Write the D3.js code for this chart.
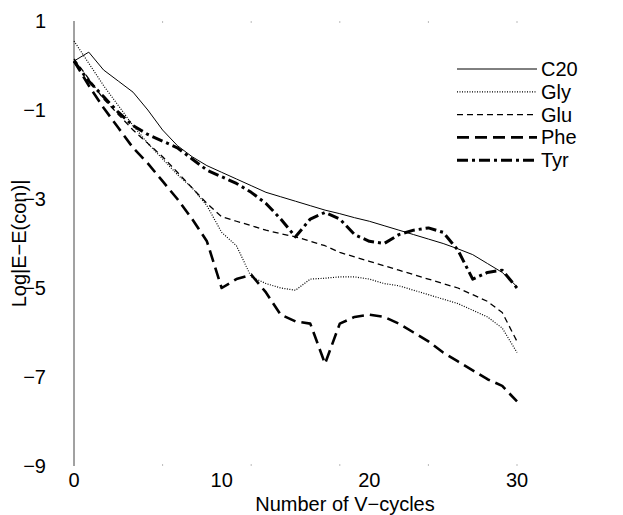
<!DOCTYPE html>
<html>
<head>
<meta charset="utf-8">
<script src="https://cdn.jsdelivr.net/npm/d3@7"></script>
<style>
  body { margin: 0; background: #fff; }
  text { font-family: "Liberation Sans", Arial, sans-serif; fill: #000; }
</style>
</head>
<body>
<svg id="chart" width="623" height="515"></svg>
<script>
// V-cycle number for each point
var cycles = d3.range(0, 31);

// log|E - E(con)| for each system
var c20 = [0.1, 0.3, -0.1, -0.35, -0.6, -1.0, -1.45, -1.8, -2.05, -2.25, -2.4, -2.55, -2.7, -2.85, -2.95, -3.05,
           -3.15, -3.25, -3.33, -3.42, -3.5, -3.6, -3.7, -3.8, -3.9, -4.0, -4.12, -4.25, -4.45, -4.65, -4.97];
var gly = [0.55, 0.05, -0.45, -0.9, -1.35, -1.75, -2.1, -2.45, -2.75, -3.15, -3.75, -4.05, -4.75, -4.9, -5.0, -5.05,
           -4.8, -4.78, -4.75, -4.75, -4.8, -4.9, -4.95, -5.05, -5.15, -5.25, -5.35, -5.5, -5.65, -5.9, -6.45];
var glu = [0.15, -0.3, -0.75, -1.1, -1.45, -1.75, -2.05, -2.4, -2.75, -3.1, -3.4, -3.5, -3.6, -3.7, -3.78, -3.85,
           -3.95, -4.05, -4.2, -4.3, -4.4, -4.5, -4.6, -4.7, -4.8, -4.9, -5.0, -5.15, -5.3, -5.55, -6.2];
var phe = [0.1, -0.45, -0.95, -1.4, -1.85, -2.2, -2.6, -3.0, -3.45, -3.95, -5.0, -4.8, -4.7, -5.1, -5.6, -5.75,
           -5.8, -6.7, -5.8, -5.65, -5.6, -5.65, -5.8, -6.0, -6.2, -6.45, -6.65, -6.85, -7.05, -7.2, -7.55];
var tyr = [0.1, -0.35, -0.7, -1.05, -1.35, -1.55, -1.7, -1.85, -2.1, -2.35, -2.5, -2.65, -2.85, -3.1, -3.45, -3.85,
           -3.45, -3.3, -3.45, -3.8, -3.95, -4.0, -3.8, -3.7, -3.65, -3.75, -4.15, -4.8, -4.65, -4.6, -5.0];

var seriesNames = ["C20", "Gly", "Glu", "Phe", "Tyr"];
var seriesValues = [c20, gly, glu, phe, tyr];

// tick labels
var xTicks = [0, 10, 20, 30];
var yTicks = [1, -1, -3, -5, -7, -9];
var minorXTicks = [6, 12, 18, 24, 30];

// line styles per series
var styles = [
  { width: 1.0, dash: null },
  { width: 1.2, dash: "1,1.5" },
  { width: 1.3, dash: "6,4" },
  { width: 2.6, dash: "12,6" },
  { width: 3.0, dash: "11,4,3,4" }
];

var svg = d3.select("#chart");
var margin = { left: 74, right: 106, top: 21, bottom: 49 };
var width = 623 - margin.left - margin.right;
var height = 515 - margin.top - margin.bottom;

var x = d3.scaleLinear().domain([0, 30]).range([margin.left, margin.left + width]);
var y = d3.scaleLinear().domain([-9, 1]).range([margin.top + height, margin.top]);

// left axis line only
svg.append("line")
  .attr("x1", x(0)).attr("x2", x(0))
  .attr("y1", y(1)).attr("y2", y(-9))
  .attr("stroke", "#444").attr("stroke-width", 1);

// faint minor ticks at top and bottom
minorXTicks.forEach(function(t) {
  [y(1), y(-9)].forEach(function(yy, i) {
    svg.append("line")
      .attr("x1", x(t)).attr("x2", x(t))
      .attr("y1", yy).attr("y2", i === 0 ? yy + 2 : yy - 2)
      .attr("stroke", "#bbb").attr("stroke-width", 1);
  });
});

// y tick labels
svg.selectAll(".ylab").data(yTicks).enter().append("text")
  .attr("x", x(0) - 28)
  .attr("y", function(d) { return y(d); })
  .attr("dy", "0.35em")
  .attr("text-anchor", "end")
  .attr("font-size", 20)
  .text(function(d) { return d < 0 ? "\u2212" + Math.abs(d) : d; });

// x tick labels
svg.selectAll(".xlab").data(xTicks).enter().append("text")
  .attr("x", function(d) { return x(d); })
  .attr("y", 487)
  .attr("text-anchor", "middle")
  .attr("font-size", 20)
  .text(function(d) { return d; });

// axis titles
svg.append("text")
  .attr("x", 345)
  .attr("y", 511)
  .attr("text-anchor", "middle")
  .attr("font-size", 20)
  .text("Number of V\u2212cycles");

svg.append("text")
  .attr("transform", "translate(26," + ((y(1) + y(-9)) / 2) + ") rotate(-90)")
  .attr("text-anchor", "middle")
  .attr("font-size", 20)
  .text("Log|E\u2212E(con)|");

// the series lines
var line = d3.line()
  .x(function(d, i) { return x(cycles[i]); })
  .y(function(d) { return y(d); });

seriesValues.forEach(function(vals, k) {
  svg.append("path")
    .datum(vals)
    .attr("d", line)
    .attr("fill", "none")
    .attr("stroke", "#000")
    .attr("stroke-width", styles[k].width)
    .attr("stroke-dasharray", styles[k].dash)
    .attr("stroke-linejoin", "round");
});

// legend
var legend = svg.append("g").attr("transform", "translate(457,69)");
seriesNames.forEach(function(name, k) {
  var row = legend.append("g").attr("transform", "translate(0," + (k * 22.8) + ")");
  row.append("line")
    .attr("x1", 0).attr("x2", 80)
    .attr("stroke", "#000")
    .attr("stroke-width", styles[k].width)
    .attr("stroke-dasharray", styles[k].dash);
  row.append("text")
    .attr("x", 84)
    .attr("dy", "0.35em")
    .attr("font-size", 20)
    .text(name);
});
</script>
</body>
</html>
